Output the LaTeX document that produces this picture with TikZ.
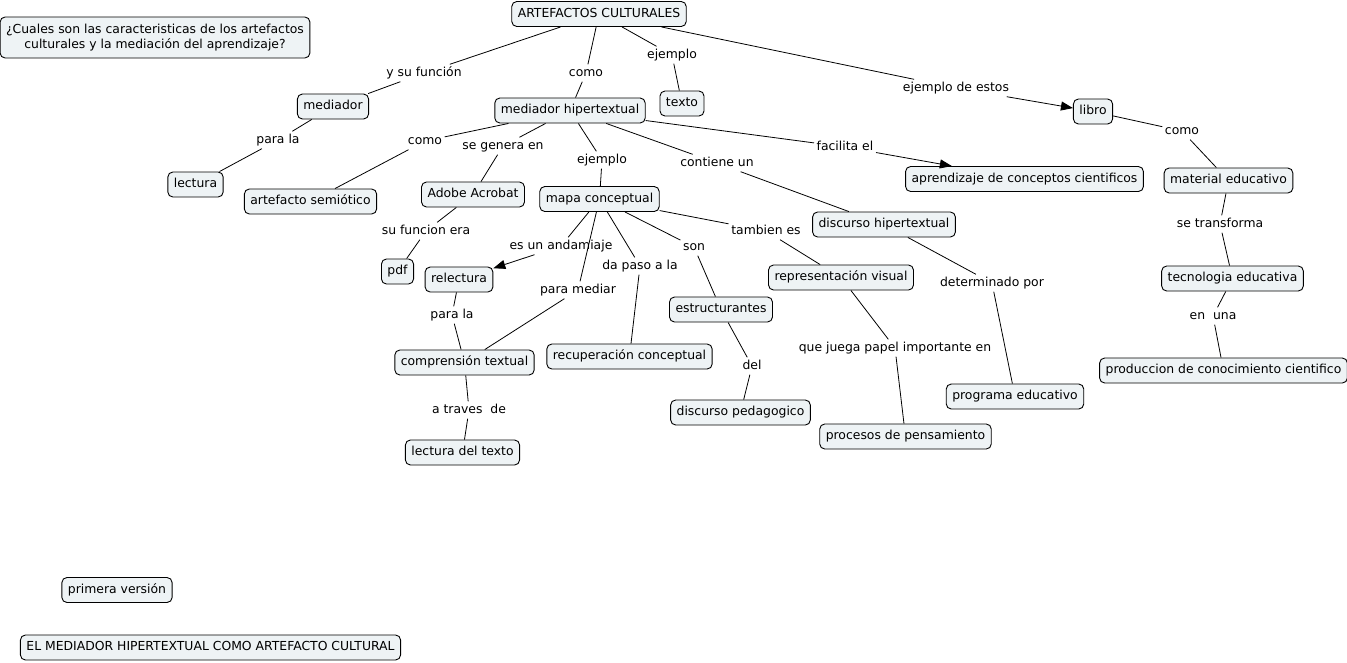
\documentclass[tikz,border=0pt]{standalone}
\usepackage{fontspec}
\setmainfont{DejaVu Sans}
\usetikzlibrary{arrows.meta}
\definecolor{cfill}{RGB}{238,243,245}
\tikzset{
  concept/.style={draw=black, line width=0.9pt, rounded corners=5pt, fill=cfill,
    font=\fontsize{12.4}{15}\selectfont, inner xsep=6pt, inner ysep=6.5pt,
    text height=9pt, text depth=3pt},
  lbl/.style={font=\fontsize{12.4}{15}\selectfont, inner sep=2.5pt, text height=9pt, text depth=3pt},
  link/.style={draw=black, line width=0.8pt},
  arr/.style={link, -{Triangle[length=12pt,width=9pt]}}
}
\begin{document}
\begin{tikzpicture}[x=1pt,y=-1pt]
\useasboundingbox (0,0) rectangle (1347,662);
% concepts
\node[concept, align=center, text height=, text depth=, inner ysep=7pt, inner xsep=6pt] (q) at (155,37.5) {¿Cuales son las caracteristicas de los artefactos\\culturales y la mediación del aprendizaje?};
\node[concept] (ac) at (599,14) {ARTEFACTOS CULTURALES};
\node[concept] (med) at (333,106.5) {mediador};
\node[concept] (mh) at (570,110.5) {mediador hipertextual};
\node[concept] (tex) at (682,103.5) {texto};
\node[concept] (lib) at (1093,111.5) {libro};
\node[concept] (lec) at (195.5,184.5) {lectura};
\node[concept] (as) at (310.5,201.5) {artefacto semiótico};
\node[concept] (ado) at (473,194.5) {Adobe Acrobat};
\node[concept] (mc) at (599.5,199) {mapa conceptual};
\node[concept] (apr) at (1024.5,179) {aprendizaje de conceptos cientificos};
\node[concept] (me) at (1228.5,180.5) {material educativo};
\node[concept] (dh) at (884,224.5) {discurso hipertextual};
\node[concept] (pdf) at (397.5,271.5) {pdf};
\node[concept] (rel) at (459,279.5) {relectura};
\node[concept] (rv) at (841,277.5) {representación visual};
\node[concept] (te) at (1232.5,278.5) {tecnologia educativa};
\node[concept] (es) at (721,309.5) {estructurantes};
\node[concept] (ct) at (464.5,362.5) {comprensión textual};
\node[concept] (rc) at (629.5,356.5) {recuperación conceptual};
\node[concept] (pcc) at (1223.5,370.5) {produccion de conocimiento cientifico};
\node[concept] (pe) at (1015,396.5) {programa educativo};
\node[concept] (dp) at (740.5,412.5) {discurso pedagogico};
\node[concept] (pp) at (905.5,436.5) {procesos de pensamiento};
\node[concept] (ldt) at (462.5,452.5) {lectura del texto};
\node[concept] (pv) at (117,590) {primera versión};
\node[concept] (emh) at (210.5,647.5) {EL MEDIADOR HIPERTEXTUAL COMO ARTEFACTO CULTURAL};
% linking phrases
\node[lbl] (l1) at (424,73) {y su función};
\node[lbl] (l2) at (586,73) {como};
\node[lbl] (l3) at (672,55) {ejemplo};
\node[lbl] (l4) at (956,88) {ejemplo de estos};
\node[lbl] (l5) at (278,140) {para la};
\node[lbl] (l6) at (425,141) {como};
\node[lbl] (l7) at (503,146) {se genera en};
\node[lbl] (l8) at (602,160) {ejemplo};
\node[lbl] (l9) at (717,163) {contiene un};
\node[lbl] (l10) at (845,147) {facilita el};
\node[lbl] (l11) at (1182,131) {como};
\node[lbl] (l12) at (426,231) {su funcion era};
\node[lbl] (l13) at (561,246) {es un andamiaje};
\node[lbl] (l14) at (766,231) {tambien es};
\node[lbl] (l15) at (694,247) {son};
\node[lbl] (l16) at (640,266) {da paso a la};
\node[lbl] (l17) at (578,290) {para mediar};
\node[lbl] (l18) at (452,315) {para la};
\node[lbl] (l19) at (1220,224) {se transforma};
\node[lbl] (l20) at (1213,316) {en\ \ una};
\node[lbl] (l21) at (992,283) {determinado por};
\node[lbl] (l22) at (895,348) {que juega papel importante en};
\node[lbl] (l23) at (752,366) {del};
\node[lbl] (l24) at (469,410) {a traves\ \ de};
% connectors
\draw[link] (ac) -- (l1); \draw[link] (l1) -- (med);
\draw[link] (ac) -- (l2); \draw[link] (l2) -- (mh);
\draw[link] (ac) -- (l3); \draw[link] (l3) -- (tex);
\draw[link] (ac) -- (l4); \draw[arr] (l4) -- (lib);
\draw[link] (med) -- (l5); \draw[link] (l5) -- (lec);
\draw[link] (mh) -- (l6); \draw[link] (l6) -- (as);
\draw[link] (mh) -- (l7); \draw[link] (l7) -- (ado);
\draw[link] (mh) -- (l8); \draw[link] (l8) -- (mc);
\draw[link] (mh) -- (l9); \draw[link] (l9) -- (dh);
\draw[link] (mh) -- (l10); \draw[arr] (l10) -- (apr);
\draw[link] (lib) -- (l11); \draw[link] (l11) -- (me);
\draw[link] (ado) -- (l12); \draw[link] (l12) -- (pdf);
\draw[link] (mc) -- (l13); \draw[arr] (l13) -- (rel);
\draw[link] (mc) -- (l14); \draw[link] (l14) -- (rv);
\draw[link] (mc) -- (l15); \draw[link] (l15) -- (es);
\draw[link] (mc) -- (l16); \draw[link] (l16) -- (rc);
\draw[link] (mc) -- (l17); \draw[link] (l17) -- (ct);
\draw[link] (rel) -- (l18); \draw[link] (l18) -- (ct);
\draw[link] (me) -- (l19); \draw[link] (l19) -- (te);
\draw[link] (te) -- (l20); \draw[link] (l20) -- (pcc);
\draw[link] (dh) -- (l21); \draw[link] (l21) -- (pe);
\draw[link] (rv) -- (l22); \draw[link] (l22) -- (pp);
\draw[link] (es) -- (l23); \draw[link] (l23) -- (dp);
\draw[link] (ct) -- (l24); \draw[link] (l24) -- (ldt);
\end{tikzpicture}
\end{document}
